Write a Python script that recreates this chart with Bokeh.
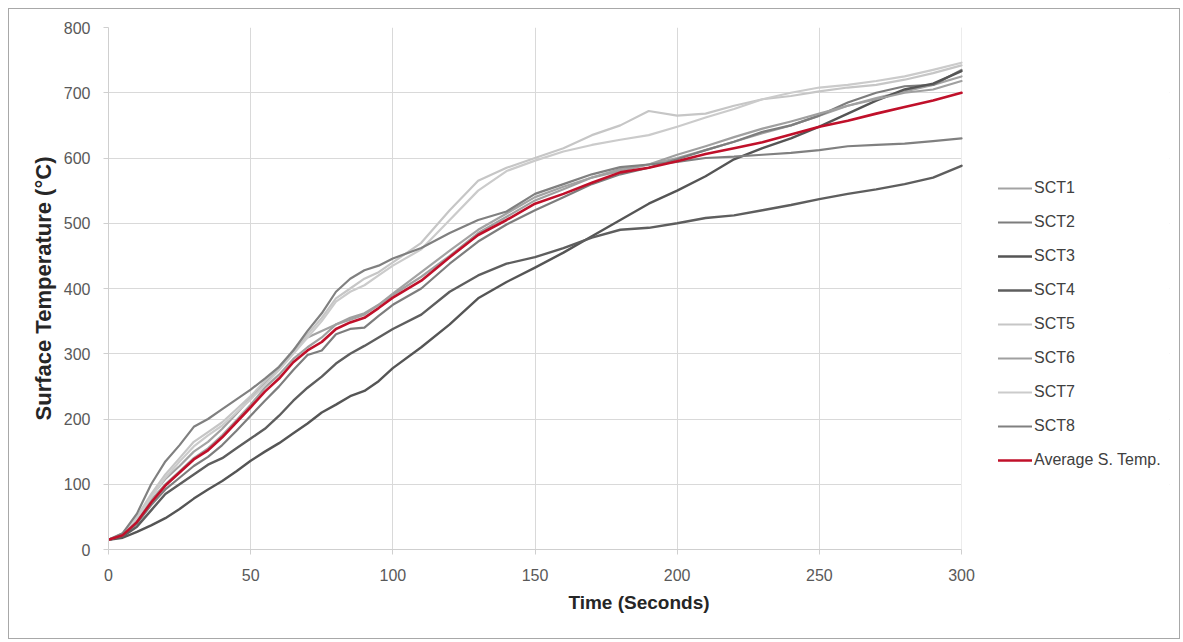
from bokeh.plotting import figure
from bokeh.models import Range1d, FixedTicker, Legend, LegendItem, BoxAnnotation
from bokeh.embed import file_html
from bokeh.resources import INLINE

time_s = [0, 5, 10, 15, 20, 25, 30, 35, 40, 45, 50, 55, 60, 65, 70, 75, 80, 85, 90, 95, 100,
          110, 120, 130, 140, 150, 160, 170, 180, 190, 200, 210, 220, 230, 240, 250, 260, 270, 280, 290, 300]

sct1 = [15, 23, 48, 82, 108, 128, 150, 165, 185, 208, 232, 255, 278, 305, 325, 335, 345, 352, 360, 375, 392,
        425, 458, 490, 515, 540, 556, 570, 583, 590, 600, 612, 625, 638, 650, 665, 680, 692, 702, 712, 725]
sct2 = [15, 21, 40, 68, 92, 110, 128, 142, 160, 182, 205, 228, 250, 275, 298, 305, 330, 338, 340, 358, 375,
        400, 438, 472, 498, 520, 540, 560, 575, 585, 598, 612, 625, 640, 650, 665, 685, 700, 710, 712, 735]
sct3 = [15, 18, 27, 37, 48, 62, 78, 92, 105, 120, 136, 150, 163, 178, 193, 210, 222, 235, 243, 258, 278,
        310, 345, 385, 410, 432, 455, 480, 505, 530, 550, 572, 598, 615, 630, 648, 668, 688, 705, 714, 733]
sct4 = [15, 20, 35, 60, 85, 100, 115, 130, 140, 155, 170, 185, 205, 228, 248, 265, 285, 300, 312, 325, 338,
        360, 395, 420, 438, 448, 462, 478, 490, 493, 500, 508, 512, 520, 528, 537, 545, 552, 560, 570, 588]
sct5 = [15, 25, 50, 85, 115, 140, 165, 180, 195, 215, 235, 258, 280, 305, 330, 355, 385, 400, 415, 425, 440,
        470, 520, 565, 585, 600, 615, 635, 650, 672, 665, 668, 680, 690, 695, 702, 708, 712, 720, 730, 742]
sct6 = [15, 22, 44, 76, 100, 120, 140, 155, 175, 198, 222, 248, 268, 292, 310, 325, 345, 355, 362, 375, 390,
        418, 450, 485, 510, 535, 552, 570, 580, 590, 605, 618, 632, 645, 656, 668, 680, 690, 700, 705, 718]
sct7 = [15, 24, 48, 80, 110, 135, 158, 175, 190, 210, 230, 252, 275, 300, 325, 350, 380, 395, 405, 420, 435,
        460, 505, 550, 580, 596, 610, 620, 628, 635, 648, 662, 675, 690, 700, 708, 712, 718, 725, 735, 746]
sct8 = [15, 25, 55, 100, 135, 160, 188, 200, 215, 230, 245, 262, 280, 305, 335, 362, 395, 415, 428, 435, 446,
        462, 485, 505, 518, 545, 560, 575, 586, 590, 594, 600, 602, 605, 608, 612, 618, 620, 622, 626, 630]
average = [15, 22, 42, 72, 98, 118, 138, 152, 172, 195, 218, 242, 262, 287, 305, 318, 338, 348, 355, 370, 386,
           412, 448, 482, 505, 530, 545, 562, 578, 585, 595, 606, 615, 624, 636, 648, 657, 668, 678, 688, 700]

series_names = ["SCT1", "SCT2", "SCT3", "SCT4", "SCT5", "SCT6", "SCT7", "SCT8", "Average S. Temp."]
series_values = [sct1, sct2, sct3, sct4, sct5, sct6, sct7, sct8, average]
series_colors = ["#a3a3a3", "#7d7d7d", "#555555", "#5e5e5e", "#c6c6c6", "#a0a0a0", "#cbcbcb", "#808080", "#c0102a"]
series_widths = [2.2, 2.2, 2.4, 2.4, 2.2, 2.2, 2.2, 2.2, 2.6]

x_ticks = [0, 50, 100, 150, 200, 250, 300]
y_ticks = [0, 100, 200, 300, 400, 500, 600, 700, 800]

# layout (pixels)
FIG_W, FIG_H = 1172, 631
LEFT, TOP, RIGHT = 99, 18, 12
PLOT_W, PLOT_H = 853, 522          # size of the 0..300 x 0..800 data area
frame_w = FIG_W - LEFT - RIGHT
x_end = x_ticks[-1] * frame_w / PLOT_W   # extra room right of the data area for the legend

p = figure(width=FIG_W, height=FIG_H, output_backend="svg", toolbar_location=None,
           x_range=Range1d(0, x_end), y_range=Range1d(y_ticks[0], y_ticks[-1]),
           min_border_left=LEFT, min_border_right=RIGHT, min_border_top=TOP,
           min_border_bottom=FIG_H - TOP - PLOT_H)
p.styles = {"border": "1px solid #a8a8a8", "box-sizing": "border-box",
            "margin-left": "8px", "margin-top": "8px"}
p.outline_line_color = None
p.background_fill_color = "white"
p.border_fill_color = "white"

p.xaxis.ticker = FixedTicker(ticks=x_ticks)
p.yaxis.ticker = FixedTicker(ticks=y_ticks)
p.xaxis.bounds = (x_ticks[0], x_ticks[-1])
p.xaxis.minor_tick_line_color = None
p.yaxis.minor_tick_line_color = None
for ax in (p.xaxis, p.yaxis):
    ax.axis_line_color = "#cfcfcf"
    ax.major_tick_line_color = "#cfcfcf"
    ax.major_tick_out = 5
    ax.major_tick_in = 0
    ax.major_label_text_font = "Liberation Sans"
    ax.major_label_text_font_size = "16px"
    ax.major_label_text_color = "#595959"
    ax.axis_label_text_font = "Liberation Sans"
    ax.axis_label_text_font_style = "bold"
    ax.axis_label_text_color = "#262626"

p.xaxis.axis_label = "Time (Seconds)"
p.xaxis.axis_label_text_font_size = "19px"
p.xaxis.major_label_standoff = 14
p.xaxis.axis_label_standoff = 8
p.yaxis.axis_label = "Surface Temperature (°C)"
p.yaxis.axis_label_text_font_size = "22px"
p.yaxis.major_label_standoff = 13
p.yaxis.axis_label_standoff = 5

p.xgrid.grid_line_color = "#d9d9d9"
p.ygrid.grid_line_color = "#d9d9d9"
p.xgrid.grid_line_width = 1
p.ygrid.grid_line_width = 1

# white mask so the horizontal gridlines stop at the last x tick
p.add_layout(BoxAnnotation(left=x_ticks[-1], fill_color="white", fill_alpha=1.0,
                           line_color=None, level="underlay"))

items = []
for name, vals, col, w in zip(series_names, series_values, series_colors, series_widths):
    r = p.line(time_s, vals, line_color=col, line_width=w, line_join="round", line_cap="round")
    items.append(LegendItem(label=name, renderers=[r]))

legend = Legend(items=items, location=(PLOT_W + 37, 79), padding=0, margin=0, spacing=14,
                label_height=20, glyph_height=20, glyph_width=34, label_standoff=2,
                label_text_font="Liberation Sans", label_text_font_size="16px",
                label_text_color="#404040", border_line_color=None,
                background_fill_alpha=0)
p.add_layout(legend)

open("out.html", "w").write(file_html(p, INLINE))
